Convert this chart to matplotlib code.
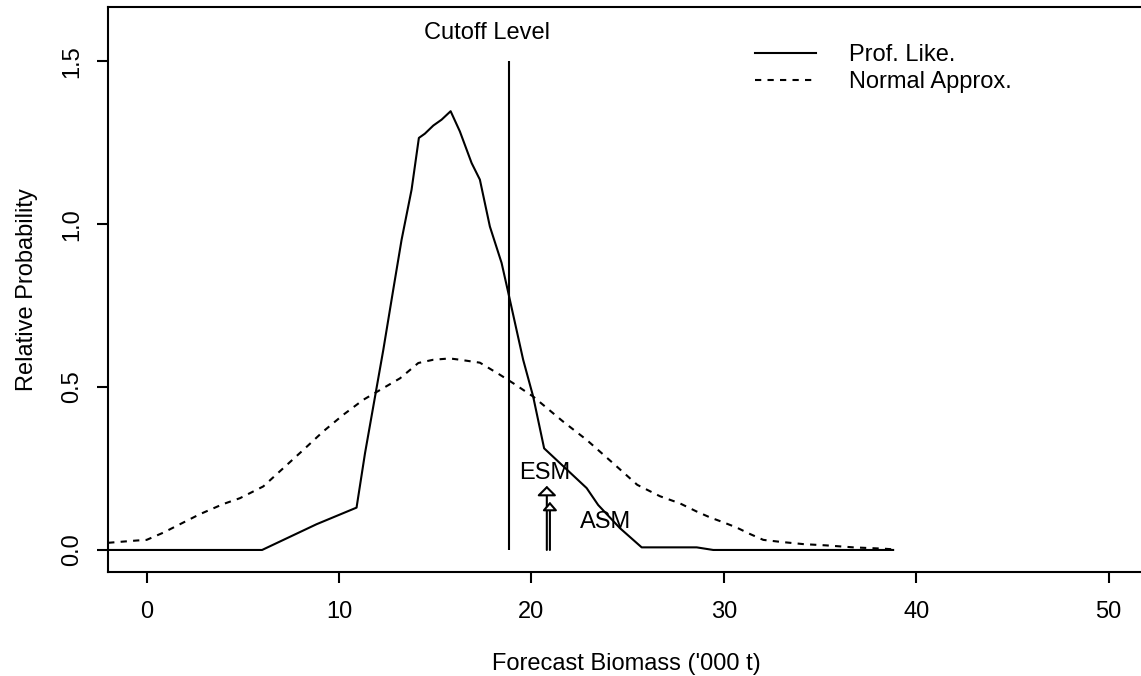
import matplotlib
matplotlib.use("Agg")
import matplotlib.pyplot as plt

plt.rcParams['font.family'] = ['Liberation Sans', 'DejaVu Sans']

# profile likelihood (solid)
prof_x = [-2, 6.0, 8.83, 10.91, 11.35, 12.3, 12.82, 13.25, 13.77, 14.15, 14.46, 14.9,
          15.33, 15.8, 16.28, 16.89, 17.32, 17.84, 18.45, 18.8, 19.57, 20.09, 20.66,
          22.87, 23.47, 24.6, 25.73, 28.59, 29.45, 38.8]
prof_y = [0, 0, 0.079, 0.130, 0.297, 0.614, 0.80, 0.952, 1.106, 1.265, 1.278, 1.303,
          1.321, 1.347, 1.285, 1.188, 1.137, 0.993, 0.881, 0.789, 0.584, 0.471, 0.312,
          0.19, 0.138, 0.067, 0.008, 0.008, 0.0, 0.0]

# normal approximation (dashed)
norm_x = [-2, -0.52, 0.0, 0.86, 1.73, 2.77, 3.98, 4.85, 6.06, 7.1, 8.14, 9.18, 10.22,
          11.26, 12.3, 13.17, 14.12, 14.9, 15.76, 16.28, 17.32, 18.36, 19.05, 20.09,
          21.65, 22.87, 24.25, 25.5, 26.68, 27.72, 28.59, 29.28, 29.97, 30.66, 31.36,
          32.05, 32.92, 34.13, 35.34, 36.73, 38.29, 38.8]
norm_y = [0.022, 0.029, 0.031, 0.053, 0.079, 0.11, 0.141, 0.159, 0.195, 0.251, 0.307,
          0.364, 0.415, 0.461, 0.497, 0.527, 0.574, 0.584, 0.588, 0.584, 0.575, 0.538,
          0.512, 0.471, 0.394, 0.338, 0.266, 0.2, 0.165, 0.143, 0.118, 0.1, 0.085,
          0.069, 0.049, 0.031, 0.025, 0.018, 0.014, 0.008, 0.004, 0.002]

cutoff = 18.83
cutoff_top = 1.5
esm_x, esm_tip = 20.8, 0.197
asm_x, asm_tip = 20.96, 0.148

x_ticks = [0, 10, 20, 30, 40, 50]
y_ticks = [0.0, 0.5, 1.0, 1.5]
y_ticklabels = ['0.0', '0.5', '1.0', '1.5']

fs = 17

fig = plt.figure(figsize=(11.41, 6.76), dpi=100)
ax = fig.add_axes([0.0948, 0.1543, 0.9075, 0.8349])

ax.plot(prof_x, prof_y, color='black', lw=1.5, label='Prof. Like.')
ax.plot(norm_x, norm_y, color='black', lw=1.5, linestyle=(0, (3, 3)), label='Normal Approx.')

# cutoff line
ax.vlines(cutoff, 0, cutoff_top, color='black', lw=1.5)
ax.text(cutoff - 1.15, 1.587, 'Cutoff Level', ha='center', va='center', fontsize=fs)

# ESM / ASM arrows
ax.annotate('', xy=(esm_x, esm_tip), xytext=(esm_x, 0),
            arrowprops=dict(arrowstyle='-|>,head_length=0.58,head_width=0.58',
                            fc='white', ec='black', lw=1.5, mutation_scale=10,
                            shrinkA=0, shrinkB=0))
ax.annotate('', xy=(asm_x, asm_tip), xytext=(asm_x, 0),
            arrowprops=dict(arrowstyle='-|>,head_length=0.5,head_width=0.43',
                            fc='white', ec='black', lw=1.5, mutation_scale=10,
                            shrinkA=0, shrinkB=0))
ax.text(20.7, 0.237, 'ESM', ha='center', va='center', fontsize=fs)
ax.text(23.87, 0.087, 'ASM', ha='center', va='center', fontsize=fs)

ax.set_xlim(-2, 51.82)
ax.set_ylim(-0.0667, 1.666)
ax.set_xticks(x_ticks)
ax.set_yticks(y_ticks)
ax.set_yticklabels(y_ticklabels, rotation=90, va='center')
ax.tick_params(axis='both', direction='out', length=8, width=1.5, labelsize=fs)
ax.tick_params(axis='x', pad=13)
ax.tick_params(axis='y', pad=10)
for s in ax.spines.values():
    s.set_linewidth(1.5)

ax.set_xlabel("Forecast Biomass ('000 t)", fontsize=fs, labelpad=22)
ax.set_ylabel('Relative Probability', fontsize=17, labelpad=17)

ax.legend(loc='upper left', bbox_to_anchor=(31.62, 1.552), bbox_transform=ax.transData,
          frameon=False, fontsize=fs, handlelength=2.6, handletextpad=1.4,
          borderpad=0, borderaxespad=0, labelspacing=0.2)

fig.savefig('out.png', dpi=100)
